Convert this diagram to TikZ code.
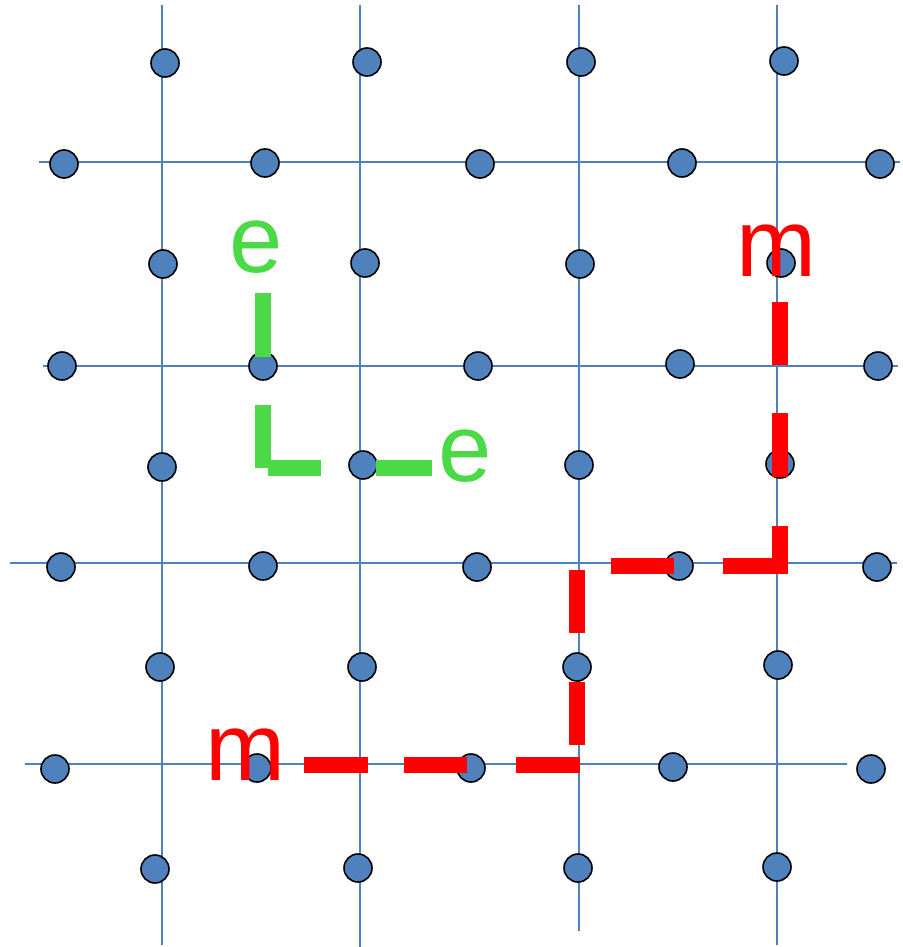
\documentclass[tikz,border=0pt]{standalone}
\usepackage{fontspec}
\setmainfont{Liberation Sans}
\definecolor{gridblue}{RGB}{79,129,189}
\definecolor{dotblue}{RGB}{79,129,189}
\definecolor{egreen}{RGB}{76,217,72}
\definecolor{mred}{RGB}{255,0,0}
\begin{document}
\begin{tikzpicture}[x=1pt,y=-1pt,
  gridline/.style={draw=gridblue,line width=2pt},
  qubit/.style={circle,draw=black,line width=1.6pt,fill=dotblue,minimum size=28pt,inner sep=0pt},
  gbar/.style={draw=egreen,line width=16pt,line cap=butt,miter limit=10},
  rbar/.style={draw=mred,line width=16pt,line cap=butt,line join=miter,miter limit=10},
  glabel/.style={text=egreen,font=\fontsize{96pt}{96pt}\selectfont,inner sep=0pt,anchor=base},
  rlabel/.style={text=mred,font=\fontsize{96pt}{96pt}\selectfont,inner sep=0pt,anchor=base}]
\useasboundingbox (0,0) rectangle (902,947);
% grid lines
\draw[gridline] (162,5) -- (162,945);
\draw[gridline] (360,5) -- (360,947);
\draw[gridline] (579,5) -- (579,931);
\draw[gridline] (777,5) -- (777,945);
\draw[gridline] (39,162) -- (900,162);
\draw[gridline] (43,366) -- (898,366);
\draw[gridline] (10,563) -- (897,563);
\draw[gridline] (25,764) -- (847,764);
% dots
\node[qubit] (a1) at (165,63) {};
\node[qubit] (a2) at (367,62) {};
\node[qubit] (a3) at (581,62) {};
\node[qubit] (a4) at (784,61) {};
\node[qubit] (b1) at (64,164) {};
\node[qubit] (b2) at (265,163) {};
\node[qubit] (b3) at (480,164) {};
\node[qubit] (b4) at (682,163) {};
\node[qubit] (b5) at (880,164) {};
\node[qubit] (c1) at (163,264) {};
\node[qubit] (c2) at (365,263) {};
\node[qubit] (c3) at (580,264) {};
\node[qubit] (c4) at (781,263) {};
\node[qubit] (d1) at (62,366) {};
\node[qubit] (d2) at (263,366) {};
\node[qubit] (d3) at (478,366) {};
\node[qubit] (d4) at (680,364) {};
\node[qubit] (d5) at (878,366) {};
\node[qubit] (e1) at (162,467) {};
\node[qubit] (e2) at (363,465) {};
\node[qubit] (e3) at (579,465) {};
\node[qubit] (e4) at (780,464) {};
\node[qubit] (f1) at (61,567) {};
\node[qubit] (f2) at (263,566) {};
\node[qubit] (f3) at (477,567) {};
\node[qubit] (f4) at (679,566) {};
\node[qubit] (f5) at (877,567) {};
\node[qubit] (g1) at (160,667) {};
\node[qubit] (g2) at (362,667) {};
\node[qubit] (g3) at (577,667) {};
\node[qubit] (g4) at (778,665) {};
\node[qubit] (h1) at (55,769) {};
\node[qubit] (h2) at (257,768) {};
\node[qubit] (h3) at (471,768) {};
\node[qubit] (h4) at (673,767) {};
\node[qubit] (h5) at (871,769) {};
\node[qubit] (i1) at (155,869) {};
\node[qubit] (i2) at (358,868) {};
\node[qubit] (i3) at (578,868) {};
\node[qubit] (i4) at (777,867) {};
% green e-path
\draw[gbar] (262.5,293) -- (262.5,357);
\draw[gbar] (262.5,405) -- (262.5,468);
\draw[gbar] (268,468) -- (321,468);
\draw[gbar] (376,468) -- (432,468);
\node[glabel] (e-top) at (256,272) {e};
\node[glabel] (e-right) at (465,481) {e};
% red m-path (dashed)
\draw[rbar] (780,302) -- (780,365);
\draw[rbar] (780,413) -- (780,477);
\draw[rbar] (780,526) -- (780,566) -- (723,566);
\draw[rbar] (674,566) -- (611,566);
\draw[rbar] (577,570) -- (577,633);
\draw[rbar] (577,682) -- (577,745);
\draw[rbar] (580,765) -- (516,765);
\draw[rbar] (467,765) -- (404,765);
\draw[rbar] (368,765) -- (304,765);
\node[rlabel] (m-top) at (776,276) {m};
\node[rlabel] (m-left) at (245,780) {m};
\end{tikzpicture}
\end{document}
